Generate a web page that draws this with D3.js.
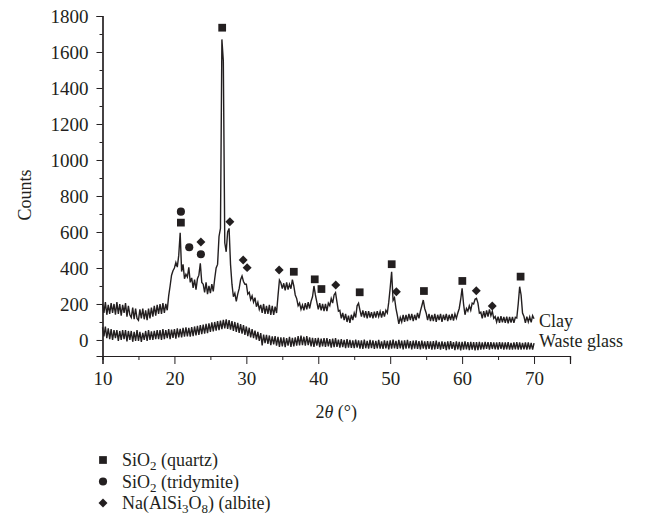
<!DOCTYPE html>
<html lang="en">
<head>
    <meta charset="UTF-8">
    <title>XRD clay and waste glass</title>
    <script src="https://d3js.org/d3.v7.min.js"></script>
    <style>
        body { margin: 0; background: #fff; }
        text { font-family: "Liberation Serif", "DejaVu Serif", serif; fill: #231f20; }
    </style>
</head>
<body>
<div id="chart"></div>
<script>
// counts, one value every 0.2 deg from 10 to 70 (one row per degree)
const clayCounts = [
    200,150,210,140,195, 145,205,150,200,140, 210,145,200,135,195, 150,205,130,190,140,
    125,180,115,175,120, 110,170,120,175,115, 165,110,175,120,180, 130,190,135,195,145,
    200,145,205,150,200, 165,245,300,360,385, 400,430,405,470,596, 380,420,340,365,350,
    404,320,345,290,335, 280,340,360,426,320, 310,265,320,255,300, 260,310,270,340,400,
    420,575,620,1670,1550, 540,490,600,620,420, 310,240,260,215,255, 285,335,355,325,310,
    310,255,265,225,245, 210,235,185,210,170, 195,150,200,145,190, 145,195,140,190,140,
    185,150,245,333,318, 285,315,275,320,280, 310,285,335,300,250, 230,190,205,170,195,
    165,205,170,210,175, 215,240,300,250,210, 170,205,165,200,160, 200,160,205,190,230,
    205,250,263,210,160, 165,120,150,110,145, 100,135,95,140,110, 150,125,190,204,165,
    130,165,125,160,120, 160,125,155,120,158, 125,160,130,158,125, 160,130,165,150,210,
    290,379,220,235,176, 135,90,125,100,140, 100,140,105,145,110, 145,105,140,110,150,
    120,160,190,222,175, 150,110,145,105,140, 105,145,100,140,110, 145,100,140,110,145,
    105,140,110,145,108, 145,120,150,175,225, 287,200,140,175,160, 190,165,205,200,226,
    231,205,150,155,120, 160,125,165,130,170, 135,160,120,130,100, 130,95,132,98,128,
    95,130,92,128,96, 128,95,126,122,200, 296,250,150,130,95, 130,100,128,98,135,
    118
]
const glassCounts = [
    70,20,75,10,65, 5,60,0,55,10, 55,-5,50,0,55, 5,55,-8,50,0,
    50,-10,45,-5,55, -5,45,-10,40,0, 50,-5,55,0,48, 0,50,5,55,5,
    55,0,60,5,55, 10,60,5,58,12, 60,8,65,15,62, 15,68,18,70,20,
    68,18,72,22,75, 25,78,28,82,32, 85,35,90,38,92, 45,98,48,100,52,
    105,55,108,60,112, 65,115,62,110,58, 105,50,100,45,95, 40,88,35,82,28,
    75,22,68,15,60, 10,52,2,45,-5, 38,-30,30,-18,28, -22,25,-28,20,-25,
    22,-32,18,-38,15, -35,15,-40,10,-32, 18,-38,12,-35,15, -32,22,-30,25,-28,
    18,-32,22,-28,15, -35,12,-38,10,-32, 12,-40,8,-36,10, -38,10,-35,5,-42,
    8,-40,10,-38,2, -42,5,-40,0,-45, 5,-42,0,-44,-2, -45,2,-42,-2,-48,
    -2,-50,2,-46,-5, -48,0,-45,-2,-50, -5,-46,0,-48,-8, -50,-2,-46,-5,-52,
    -2,-48,2,-46,-5, -50,0,-46,-4,-52, -2,-48,0,-46,-6, -52,-4,-48,-2,-50,
    -6,-52,-4,-48,-8, -52,-6,-50,-8,-54, -6,-52,-4,-50,-10, -54,-8,-50,-10,-56,
    -8,-52,-6,-50,-12, -56,-8,-52,-10,-58, -10,-54,-8,-52,-12, -56,-10,-54,-12,-58,
    -12,-56,-10,-54,-14, -52,-10,-50,-12,-54, -12,-50,-14,-52,-14, -54,-12,-50,-14,-54,
    -14,-52,-12,-54,-16, -54,-14,-52,-12,-54, -14,-54,-16,-52,-14, -54,-14,-52,-16,-54,
    -18
]
const twoTheta = d3.range(clayCounts.length).map(i => 10 + i * 0.2)

// peak markers: [2theta, counts]
const quartzPeaks = [[20.9,652],[26.64,1735],[36.6,379],[39.51,337],[40.44,283],[45.76,265],[50.21,421],[54.69,272],[60.03,328],[68.13,352]]
const tridymitePeaks = [[20.9,713],[22.06,515],[23.68,476]]
const albitePeaks = [[23.68,544],[27.71,657],[29.56,444],[30.11,402],[34.56,389],[42.43,306],[50.86,268],[61.97,274],[64.19,189]]

const xTicks = [10,20,30,40,50,60,70]
const yTicks = [0,200,400,600,800,1000,1200,1400,1600,1800]

const width = 647
const height = 522
const ink = "#231f20"

const x = d3.scaleLinear().domain([10, 75]).range([102.5, 570])
const y = d3.scaleLinear().domain([-89, 1800]).range([356, 16])

const svg = d3.select("#chart")
    .append("svg")
      .attr("width", width)
      .attr("height", height)

// axes
const xAxis = svg.append("g")
    .attr("transform", `translate(0,${y(-89)})`)
xAxis.append("g")
    .call(d3.axisBottom(x).tickValues(d3.range(15, 76, 10)).tickSize(4).tickFormat(""))
xAxis.append("g")
    .call(d3.axisBottom(x).tickValues(xTicks).tickSize(8).tickPadding(8).tickFormat(d3.format("d")))
xAxis.selectAll(".domain").attr("stroke", ink).attr("stroke-width", 1.2)
xAxis.selectAll(".tick line").attr("stroke", ink)
xAxis.selectAll("text").style("font-size", "19px").attr("fill", ink)
    .style("font-family", "Liberation Serif")

const yAxis = svg.append("g")
    .attr("transform", `translate(${x(10)},0)`)
yAxis.append("g")
    .call(d3.axisLeft(y).tickValues(d3.range(-100, 1801, 100).filter(v => v % 200 !== 0 && v > -89)).tickSize(3).tickFormat(""))
yAxis.append("g")
    .call(d3.axisLeft(y).tickValues(yTicks).tickSize(6).tickPadding(8).tickFormat(d3.format("d")))
yAxis.selectAll(".domain").attr("stroke", ink).attr("stroke-width", 1.2)
yAxis.selectAll(".tick line").attr("stroke", ink)
yAxis.selectAll("text").style("font-size", "19px").attr("fill", ink)
    .style("font-family", "Liberation Serif")

// axis titles
svg.append("text")
    .attr("transform", "translate(31,195) rotate(-90)")
    .attr("text-anchor", "middle")
    .style("font-size", "18px")
    .text("Counts")

const xTitle = svg.append("text")
    .attr("x", (x(10) + x(75)) / 2)
    .attr("y", 418)
    .attr("text-anchor", "middle")
    .style("font-size", "18px")
xTitle.append("tspan").text("2")
xTitle.append("tspan").style("font-style", "italic").text("θ")
xTitle.append("tspan").text(" (°)")

// patterns
const line = d3.line()
    .x((d, i) => x(twoTheta[i]))
    .y(d => y(d))

svg.append("path")
    .datum(glassCounts)
    .attr("fill", "none")
    .attr("stroke", ink)
    .attr("stroke-width", 1.4)
    .attr("d", line)

svg.append("path")
    .datum(clayCounts)
    .attr("fill", "none")
    .attr("stroke", ink)
    .attr("stroke-width", 1.4)
    .attr("d", line)

svg.append("text")
    .attr("x", x(70) + 5)
    .attr("y", 327)
    .style("font-size", "18px")
    .text("Clay")
svg.append("text")
    .attr("x", x(70) + 5)
    .attr("y", 347)
    .style("font-size", "18px")
    .text("Waste glass")

// markers
const square = d3.symbol().type(d3.symbolSquare).size(60)
const circle = d3.symbol().type(d3.symbolCircle).size(52)
const diamond = d3.symbol().type(d3.symbolSquare).size(40)

const drawMarks = (data, sym, rot) => {
    svg.append("g")
        .selectAll("path")
        .data(data)
        .enter()
        .append("path")
        .attr("d", sym)
        .attr("fill", ink)
        .attr("transform", d => `translate(${x(d[0])},${y(d[1])}) rotate(${rot})`)
}
drawMarks(quartzPeaks, square, 0)
drawMarks(tridymitePeaks, circle, 0)
drawMarks(albitePeaks, diamond, 45)

// legend
const legend = [
    {sym: square, rot: 0, name: "SiO", sub1: "2", rest: " (quartz)"},
    {sym: circle, rot: 0, name: "SiO", sub1: "2", rest: " (tridymite)"},
    {sym: diamond, rot: 45, name: "Na(AlSi", sub1: "3", mid: "O", sub2: "8", rest: ") (albite)"}
]
const rows = svg.append("g")
    .selectAll("g")
    .data(legend)
    .enter()
    .append("g")
    .attr("transform", (d, i) => `translate(103,${460 + i * 21.5})`)
rows.append("path")
    .attr("d", d => d.sym())
    .attr("fill", ink)
    .attr("transform", d => `rotate(${d.rot})`)
const labels = rows.append("text")
    .attr("x", 19)
    .attr("y", 6)
    .style("font-size", "18px")
labels.each(function (d) {
    const t = d3.select(this)
    t.append("tspan").text(d.name)
    t.append("tspan").attr("dy", 4).style("font-size", "13px").text(d.sub1)
    if (d.mid) {
        t.append("tspan").attr("dy", -4).text(d.mid)
        t.append("tspan").attr("dy", 4).style("font-size", "13px").text(d.sub2)
    }
    t.append("tspan").attr("dy", -4).text(d.rest)
})
</script>
</body>
</html>
